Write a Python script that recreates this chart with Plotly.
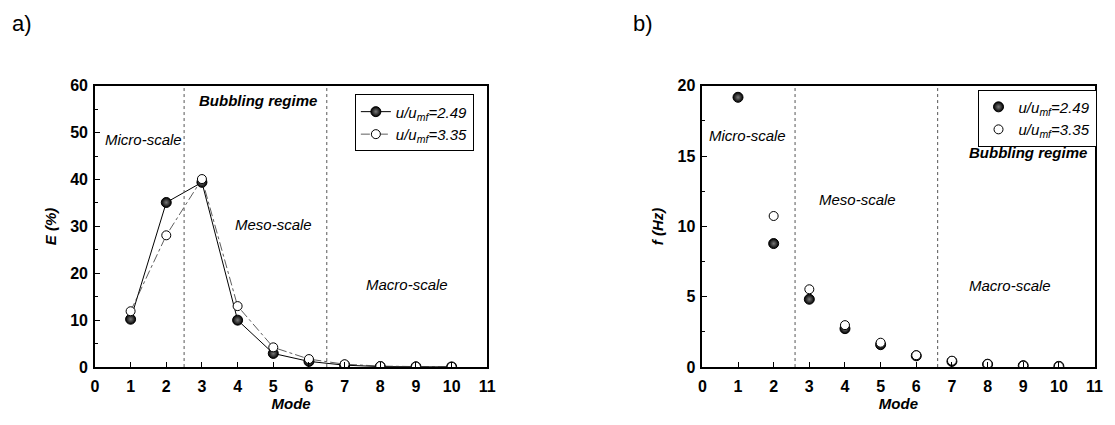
import plotly.graph_objects as go

# ---- data -------------------------------------------------------------
modes = [1, 2, 3, 4, 5, 6, 7, 8, 9, 10]

# a) energy fraction per mode (%)
energy_249 = [10.2, 35.1, 39.4, 10.0, 2.9, 1.2, 0.4, 0.1, 0.05, 0.03]
energy_335 = [11.9, 28.1, 40.1, 13.0, 4.2, 1.7, 0.6, 0.2, 0.1, 0.05]

# b) characteristic frequency per mode (Hz)
freq_249 = [19.18, 8.78, 4.82, 2.73, 1.59, 0.80, 0.40, 0.20, 0.10, 0.05]
freq_335 = [None, 10.74, 5.53, 2.98, 1.73, 0.84, 0.45, 0.22, 0.10, 0.05]

series_names = ["<i>u/u<sub>mf</sub>=2.49</i>", "<i>u/u<sub>mf</sub>=3.35</i>"]

# scale boundaries (mode number) for each panel
bounds_a = [2.5, 6.5]
bounds_b = [2.6, 6.6]

FONT = "Liberation Sans"

fig = go.Figure()

filled = dict(symbol="circle", size=10, color="black",
              gradient=dict(type="radial", color="#7a7a7a"),
              line=dict(color="black", width=1))
hollow = dict(symbol="circle", size=9, color="white",
              line=dict(color="black", width=1))

# panel a
fig.add_trace(go.Scatter(x=modes, y=energy_249, name=series_names[0],
                         mode="lines+markers", line=dict(color="black", width=1),
                         marker=filled, xaxis="x", yaxis="y", legend="legend"))
fig.add_trace(go.Scatter(x=modes, y=energy_335, name=series_names[1],
                         mode="lines+markers",
                         line=dict(color="#333333", width=0.8, dash="dashdot"),
                         marker=hollow, xaxis="x", yaxis="y", legend="legend"))

# panel b
fig.add_trace(go.Scatter(x=modes, y=freq_249, name=series_names[0],
                         mode="markers", marker=filled,
                         xaxis="x2", yaxis="y2", legend="legend2"))
fig.add_trace(go.Scatter(x=modes, y=freq_335, name=series_names[1],
                         mode="markers", marker=hollow,
                         xaxis="x2", yaxis="y2", legend="legend2"))

tickfont = dict(family=FONT, size=16, color="black", weight="bold")
titlefont = dict(family=FONT, size=15, color="black", weight="bold", style="italic")

def xaxis(domain, anchor):
    return dict(domain=domain, anchor=anchor, range=[0, 11], dtick=1, tick0=0,
                showgrid=False, zeroline=False, showline=True, linecolor="black",
                linewidth=1.5, mirror=True, ticks="inside", ticklen=5,
                tickcolor="black", tickfont=tickfont, ticklabelstandoff=4,
                title=dict(text="Mode", font=titlefont, standoff=4))

def yaxis(domain, anchor, rng, dt, title):
    return dict(domain=domain, anchor=anchor, range=rng, dtick=dt, tick0=0,
                showgrid=False, zeroline=False, showline=True, linecolor="black",
                linewidth=1.5, mirror=True, ticks="inside", ticklen=5,
                tickcolor="black", tickfont=tickfont, ticklabelstandoff=2,
                minor=dict(dtick=dt / 2, ticks="inside", ticklen=3,
                           tickcolor="black", showgrid=False),
                title=dict(text=title, font=titlefont, standoff=10))

ydom = [1 - 374 / 425, 1 - 81 / 425]

legend_style = dict(bgcolor="white", bordercolor="black", borderwidth=1,
                    font=dict(family=FONT, size=15, color="black"),
                    xanchor="left", yanchor="top", tracegroupgap=0,
                    itemwidth=30)

annots = []
def note(text, x, y, xref, yref, bold=False, xanchor="center"):
    t = "<b><i>%s</i></b>" % text if bold else "<i>%s</i>" % text
    annots.append(dict(text=t, x=x, y=y, xref=xref, yref=yref, showarrow=False,
                       xanchor=xanchor, yanchor="middle",
                       font=dict(family=FONT, size=15, color="black")))

note("Micro-scale", 1.35, 48.6, "x", "y")
note("Bubbling regime", 4.56, 56.8, "x", "y", bold=True)
note("Meso-scale", 5.0, 30.5, "x", "y")
note("Macro-scale", 8.75, 17.6, "x", "y")

note("Micro-scale", 1.26, 16.45, "x2", "y2")
note("Bubbling regime", 10.85, 15.24, "x2", "y2", bold=True, xanchor="right")
note("Meso-scale", 4.36, 11.88, "x2", "y2")
note("Macro-scale", 8.62, 5.8, "x2", "y2")

for lbl, px in (("a)", 6), ("b)", 634)):
    annots.append(dict(text=lbl, x=px / 1115, y=1 - 16 / 425, xref="paper",
                       yref="paper", xanchor="left", yanchor="middle",
                       showarrow=False,
                       font=dict(family=FONT, size=22, color="black")))

shapes = []
for b in bounds_a:
    shapes.append(dict(type="line", x0=b, x1=b, y0=0, y1=1, xref="x",
                       yref="y domain", line=dict(color="#555555", width=1, dash="dot")))
for b in bounds_b:
    shapes.append(dict(type="line", x0=b, x1=b, y0=0, y1=1, xref="x2",
                       yref="y2 domain", line=dict(color="#555555", width=1, dash="dot")))

fig.update_layout(
    width=1115, height=425, margin=dict(l=0, r=0, t=0, b=0),
    paper_bgcolor="white", plot_bgcolor="white",
    font=dict(family=FONT, color="black"),
    xaxis=xaxis([92 / 1115, 489 / 1115], "y"),
    yaxis=yaxis(ydom, "x", [0, 60], 10, "E (%)"),
    xaxis2=xaxis([706.6 / 1115, 1103.4 / 1115], "y2"),
    yaxis2=yaxis(ydom, "x2", [0, 20], 5, "f (Hz)"),
    legend=dict(x=355 / 1115, y=1 - 90 / 425, **legend_style),
    legend2=dict(x=985 / 1115, y=1 - 85 / 425, **legend_style),
    annotations=annots, shapes=shapes, showlegend=True,
)

fig.write_html("out.html")
